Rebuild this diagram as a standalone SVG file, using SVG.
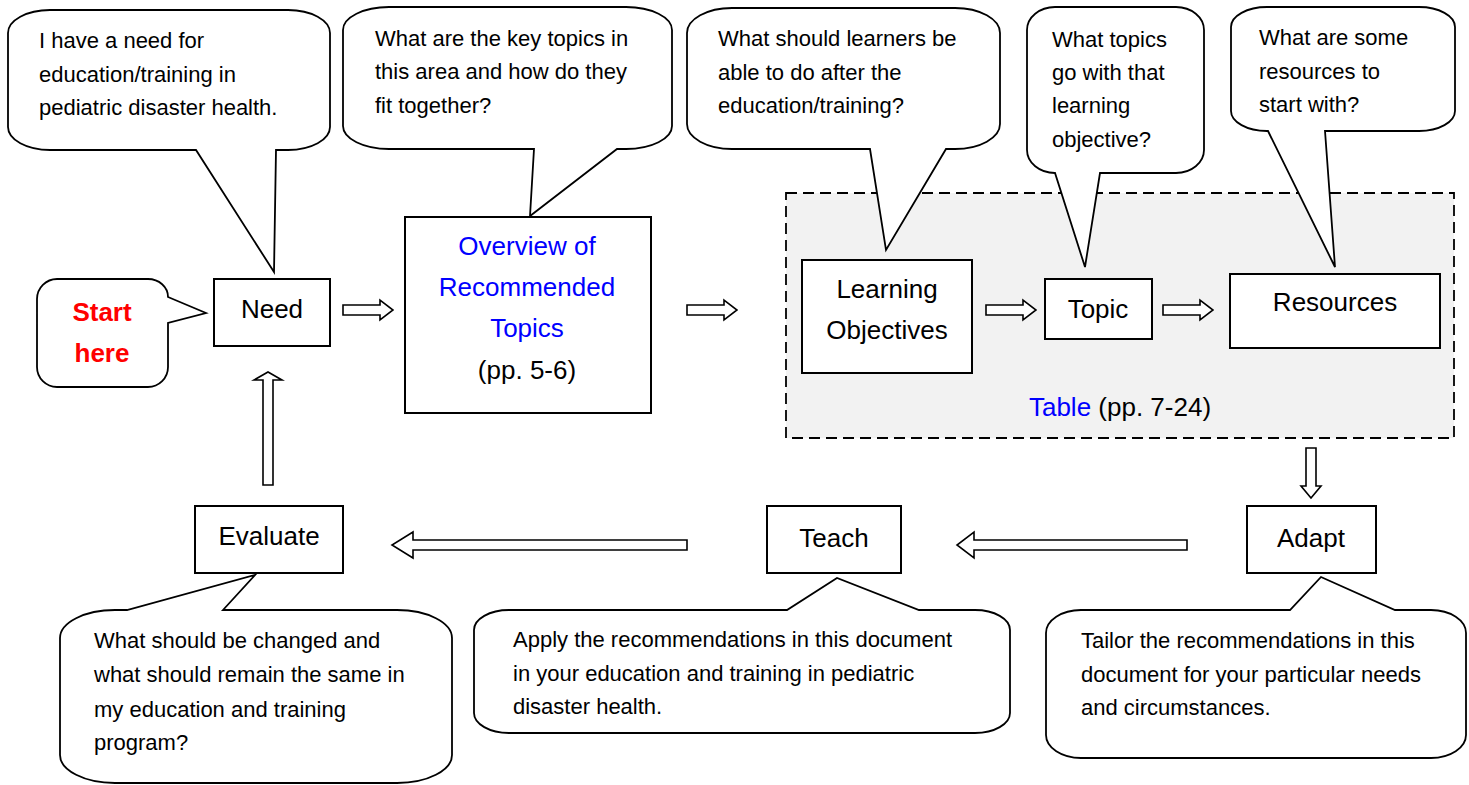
<svg xmlns="http://www.w3.org/2000/svg" width="1469" height="785" viewBox="0 0 1469 785">
<style>
.bg{fill:#ffffff}
.callout{fill:#ffffff;stroke:#000;stroke-width:1.8;stroke-linejoin:miter}
.box{fill:#ffffff;stroke:#000;stroke-width:2}
.arrow{fill:#ffffff;stroke:#000;stroke-width:1.6;stroke-linejoin:miter}
.group{fill:#f2f2f2;stroke:#000;stroke-width:1.8;stroke-dasharray:11 6}
.ct{font-family:"Liberation Sans",Arial,sans-serif;font-size:22px;fill:#000}
.bt{font-family:"Liberation Sans",Arial,sans-serif;font-size:26px;fill:#000;text-anchor:middle}
.blue{fill:#0000ff}
.red{fill:#ff0000;font-weight:bold}
</style>
<rect class="bg" x="0" y="0" width="1469" height="785"/>

<g id="table-group">
<rect class="group" x="786" y="193" width="668" height="245"/>
<text class="bt" x="1120" y="416"><tspan class="blue">Table</tspan> (pp. 7-24)</text>
</g>

<g id="callout-need">
<path class="callout" d="M50,10 H288 A42 23 0 0 1 330,33 V127 A42 23 0 0 1 288,150 H276 L274,272 L196,150 H50 A42 23 0 0 1 8,127 V33 A42 23 0 0 1 50,10 Z"/>
<text class="ct" x="39" y="48">I have a need for</text>
<text class="ct" x="39" y="82">education/training in</text>
<text class="ct" x="39" y="115">pediatric disaster health.</text>
</g>

<g id="callout-overview">
<path class="callout" d="M389,7 H626 A46 23 0 0 1 672,30 V126 A46 23 0 0 1 626,149 H617 L530,216 L534,149 H389 A46 23 0 0 1 343,126 V30 A46 23 0 0 1 389,7 Z"/>
<text class="ct" x="375" y="46">What are the key topics in</text>
<text class="ct" x="375" y="79">this area and how do they</text>
<text class="ct" x="375" y="113">fit together?</text>
</g>

<g id="callout-objectives">
<path class="callout" d="M732,8 H955 A45 25 0 0 1 1000,33 V124 A45 25 0 0 1 955,149 H946 L886,250 L870,149 H732 A45 25 0 0 1 687,124 V33 A45 25 0 0 1 732,8 Z"/>
<text class="ct" x="718" y="46">What should learners be</text>
<text class="ct" x="718" y="80">able to do after the</text>
<text class="ct" x="718" y="113">education/training?</text>
</g>

<g id="callout-topic">
<path class="callout" d="M1055,7 H1176 A28 23 0 0 1 1204,30 V150 A28 23 0 0 1 1176,173 H1100 L1085,267 L1055,173 A28 23 0 0 1 1027,150 V30 A28 23 0 0 1 1055,7 Z"/>
<text class="ct" x="1052" y="47">What topics</text>
<text class="ct" x="1052" y="80">go with that</text>
<text class="ct" x="1052" y="113">learning</text>
<text class="ct" x="1052" y="147">objective?</text>
</g>

<g id="callout-resources">
<path class="callout" d="M1267,7 H1419 A36 20 0 0 1 1455,27 V111 A36 20 0 0 1 1419,131 H1325 L1335,267 L1268,131 H1267 A36 20 0 0 1 1231,111 V27 A36 20 0 0 1 1267,7 Z"/>
<text class="ct" x="1259" y="45">What are some</text>
<text class="ct" x="1259" y="79">resources to</text>
<text class="ct" x="1259" y="112">start with?</text>
</g>

<g id="start-here">
<path class="callout" d="M57,279 H148 A20 18 0 0 1 168,297 L206,313 L168,323 V367 A20 20 0 0 1 148,387 H57 A20 20 0 0 1 37,367 V299 A20 20 0 0 1 57,279 Z"/>
<text class="bt red" x="102" y="321">Start</text>
<text class="bt red" x="102" y="362">here</text>
</g>

<g id="need">
<rect class="box" x="214" y="279" width="116" height="67"/>
<text class="bt" x="272" y="318">Need</text>
</g>

<g id="overview">
<rect class="box" x="405" y="217" width="246" height="196"/>
<text class="bt blue" x="527" y="255">Overview of</text>
<text class="bt blue" x="527" y="296">Recommended</text>
<text class="bt blue" x="527" y="337">Topics</text>
<text class="bt" x="527" y="379">(pp. 5-6)</text>
</g>

<g id="learning-objectives">
<rect class="box" x="802" y="260" width="170" height="113"/>
<text class="bt" x="887" y="298">Learning</text>
<text class="bt" x="887" y="339">Objectives</text>
</g>

<g id="topic">
<rect class="box" x="1045" y="279" width="107" height="60"/>
<text class="bt" x="1098" y="318">Topic</text>
</g>

<g id="resources">
<rect class="box" x="1230" y="274" width="210" height="74"/>
<text class="bt" x="1335" y="311">Resources</text>
</g>

<g id="evaluate">
<rect class="box" x="195" y="506" width="148" height="67"/>
<text class="bt" x="269" y="545">Evaluate</text>
</g>

<g id="teach">
<rect class="box" x="767" y="506" width="134" height="67"/>
<text class="bt" x="834" y="547">Teach</text>
</g>

<g id="adapt">
<rect class="box" x="1247" y="506" width="129" height="67"/>
<text class="bt" x="1311" y="547">Adapt</text>
</g>

<g id="callout-evaluate">
<path class="callout" d="M115,610 H127 L255,575 L223,610 H397 A55 28 0 0 1 452,638 V755 A55 28 0 0 1 397,783 H115 A55 28 0 0 1 60,755 V638 A55 28 0 0 1 115,610 Z"/>
<text class="ct" x="94" y="648">What should be changed and</text>
<text class="ct" x="94" y="682">what should remain the same in</text>
<text class="ct" x="94" y="717">my education and training</text>
<text class="ct" x="94" y="750">program?</text>
</g>

<g id="callout-teach">
<path class="callout" d="M509,610 H787 L837,578 L919,610 H975 A35 20 0 0 1 1010,630 V713 A35 20 0 0 1 975,733 H509 A35 20 0 0 1 474,713 V630 A35 20 0 0 1 509,610 Z"/>
<text class="ct" x="513" y="647">Apply the recommendations in this document</text>
<text class="ct" x="513" y="681">in your education and training in pediatric</text>
<text class="ct" x="513" y="714">disaster health.</text>
</g>

<g id="callout-adapt">
<path class="callout" d="M1081,610 H1290 L1321,577 L1395,610 H1431 A35 23 0 0 1 1466,633 V735 A35 23 0 0 1 1431,758 H1081 A35 23 0 0 1 1046,735 V633 A35 23 0 0 1 1081,610 Z"/>
<text class="ct" x="1081" y="648">Tailor the recommendations in this</text>
<text class="ct" x="1081" y="682">document for your particular needs</text>
<text class="ct" x="1081" y="715">and circumstances.</text>
</g>

<g id="connectors">
<path class="arrow" d="M343,305 H380 V300 L393,310 L380,320 V315 H343 Z"/>
<path class="arrow" d="M687,305 H724 V300 L737,310 L724,320 V315 H687 Z"/>
<path class="arrow" d="M986,305 H1023 V300 L1036,310 L1023,320 V315 H986 Z"/>
<path class="arrow" d="M1163,305 H1200 V300 L1213,310 L1200,320 V315 H1163 Z"/>
<path class="arrow" d="M1306,448 H1316 V486 H1321 L1311,498 L1301,486 H1306 Z"/>
<path class="arrow" d="M1187,540 H974 V532 L957,545 L974,558 V550 H1187 Z"/>
<path class="arrow" d="M687,540 H413 V532 L392,545 L413,558 V550 H687 Z"/>
<path class="arrow" d="M263,485 V380 H254 L268,372 L282,380 H273 V485 Z"/>
</g>
</svg>
